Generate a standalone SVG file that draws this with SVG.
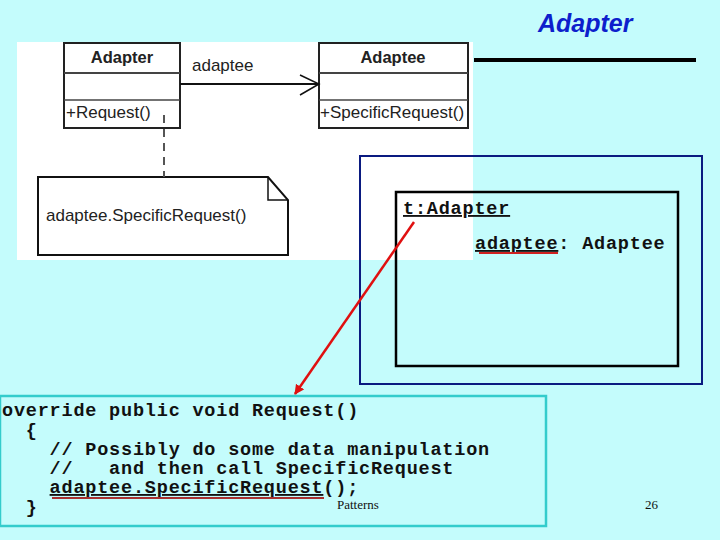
<svg xmlns="http://www.w3.org/2000/svg" width="720" height="540" viewBox="0 0 720 540">
<style>
.uml{font-family:"Liberation Sans",Arial,sans-serif;font-size:17px;fill:#222}
.umlb{font-family:"Liberation Sans",Arial,sans-serif;font-size:16.5px;font-weight:bold;fill:#222}
.box{fill:#fff;stroke:#222;stroke-width:2}
.code{font-family:"Liberation Mono","Courier New",monospace;font-size:18.5px;letter-spacing:0.8px;font-weight:bold;fill:#111;white-space:pre}
.foot{font-family:"Liberation Serif","Times New Roman",serif;font-size:13px;fill:#111}
</style>
<defs>
<marker id="redArrow" markerWidth="10" markerHeight="10" refX="9" refY="5" orient="auto" markerUnits="userSpaceOnUse">
<path d="M0,0 L10,5 L0,10 Z" fill="#e01010"/>
</marker>
</defs>
<rect width="720" height="540" fill="#c4fcfc"/>
<text x="538" y="32" font-family="'Liberation Sans',Arial,sans-serif" font-size="25" font-weight="bold" font-style="italic" fill="#0d1fcc">Adapter</text>
<line x1="474" y1="60" x2="696" y2="60" stroke="#000" stroke-width="4"/>
<rect x="17" y="42" width="456" height="218" fill="#fff"/>
<g id="adapter-class">
<rect class="box" x="64" y="43" width="116" height="85"/>
<line x1="64" y1="73" x2="180" y2="73" stroke="#444" stroke-width="2"/>
<line x1="64" y1="100" x2="180" y2="100" stroke="#444" stroke-width="1.5"/>
<text class="umlb" x="122" y="63" text-anchor="middle">Adapter</text>
<text class="uml" x="66" y="118">+Request()</text>
</g>
<g id="adaptee-class">
<rect class="box" x="319" y="43" width="149" height="85"/>
<line x1="319" y1="73" x2="468" y2="73" stroke="#444" stroke-width="2"/>
<line x1="319" y1="100" x2="468" y2="100" stroke="#444" stroke-width="1.5"/>
<text class="umlb" x="393" y="63" text-anchor="middle">Adaptee</text>
<text class="uml" x="320" y="118">+SpecificRequest()</text>
</g>
<g id="note">
<path d="M38,177 L268,177 L288,200 L288,255 L38,255 Z" fill="#fff" stroke="#111" stroke-width="2"/>
<path d="M268,177 L268,200 L288,200" fill="none" stroke="#111" stroke-width="1.5"/>
<text class="uml" x="46" y="221">adaptee.SpecificRequest()</text>
</g>
<g id="outer-box">
<rect x="360" y="156" width="342" height="228" fill="none" stroke="#0a1a80" stroke-width="2"/>
</g>
<g id="t-adapter">
<rect x="396" y="192" width="282" height="174" fill="none" stroke="#000" stroke-width="2.5"/>
<text class="code" x="403" y="214" text-decoration="underline">t:Adapter</text>
<text class="code" x="475" y="249"><tspan text-decoration="underline">adaptee</tspan>: Adaptee</text>
<line x1="479" y1="253" x2="558" y2="253" stroke="#d02020" stroke-width="2"/>
</g>
<g id="code-box">
<rect x="0" y="396" width="546" height="130" fill="none" stroke="#33cccc" stroke-width="2.5"/>
<text class="code" x="2" y="416">override public void Request()</text>
<text class="code" x="2" y="436">  {</text>
<text class="code" x="2" y="455">    // Possibly do some data manipulation</text>
<text class="code" x="2" y="474">    //   and then call SpecificRequest</text>
<text class="code" x="2" y="493">    <tspan text-decoration="underline">adaptee.SpecificRequest</tspan>();</text>
<text class="code" x="2" y="513">  }</text>
<line x1="52" y1="498" x2="324" y2="498" stroke="#a83030" stroke-width="2"/>
</g>
<g id="connectors">
<line x1="180" y1="84" x2="319" y2="84" stroke="#111" stroke-width="2"/>
<path d="M300,75 L319,84 L300,95" fill="none" stroke="#111" stroke-width="1.5"/>
<text class="uml" x="192" y="71">adaptee</text>
<line x1="164" y1="115" x2="164" y2="177" stroke="#555" stroke-width="2" stroke-dasharray="8,6"/>
<line x1="414" y1="222" x2="295" y2="394" stroke="#e01010" stroke-width="2.5" marker-end="url(#redArrow)"/>
</g>
<text class="foot" x="337" y="509">Patterns</text>
<text class="foot" x="645" y="509">26</text>
</svg>
